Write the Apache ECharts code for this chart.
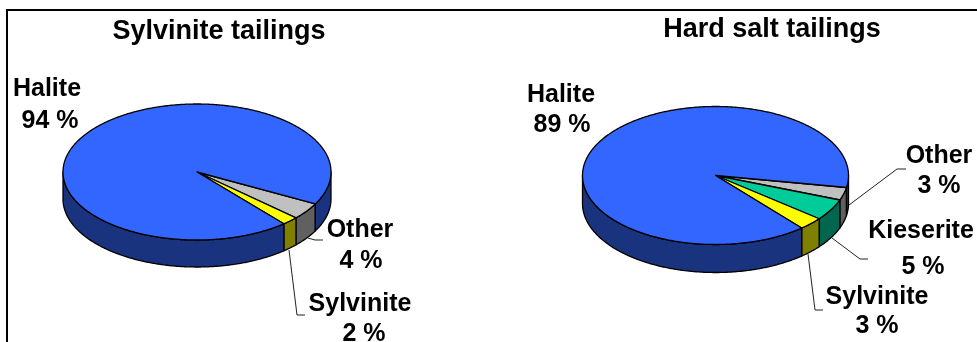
<!DOCTYPE html>
<html><head><meta charset="utf-8">
<style>html,body{margin:0;padding:0;background:#fff}#c{width:977px;height:342px}</style>
<script src="https://cdn.jsdelivr.net/npm/echarts@6/dist/echarts.min.js"></script>
</head><body><div id="c"></div>
<script>
const sylviniteTitle = 'Sylvinite tailings';
const sylviniteNames = ['Other', 'Sylvinite', 'Halite'];
const sylviniteValues = [4, 2, 94];
const hardSaltTitle = 'Hard salt tailings';
const hardSaltNames = ['Other', 'Kieserite', 'Sylvinite', 'Halite'];
const hardSaltValues = [3, 5, 3, 89];

const palette = {
  Halite: ['#3366FF', '#1A337F'],
  Other: ['#C0C0C0', '#606060'],
  Sylvinite: ['#FFFF00', '#808000'],
  Kieserite: ['#00CC99', '#006650']
};
const FONT = '"Liberation Sans", Arial, sans-serif';

// layout of each pie: ellipse, label anchors, leader lines
const leftLayout = {
  cx: 197, cy: 172, rx: 134, ry: 68, depth: 27, start: 28,
  labels: {
    Halite: { name: [47, 89], value: [50, 121], leader: null },
    Other: { name: [360, 230], value: [361, 261], leader: [[308, 238], [315, 240], [323, 240]] },
    Sylvinite: { name: [360, 304], value: [364, 334], leader: [[289, 250], [297, 315], [305, 315]] }
  }
};
const rightLayout = {
  cx: 715.5, cy: 175.5, rx: 133, ry: 69, depth: 28, start: 10,
  labels: {
    Halite: { name: [561, 95], value: [562, 125], leader: null },
    Other: { name: [939, 156], value: [939, 186], leader: [[849, 205], [897, 169], [906, 169]] },
    Kieserite: { name: [921, 231], value: [923, 267], leader: [[832, 238], [860, 259], [868, 259]] },
    Sylvinite: { name: [877, 297], value: [877, 326], leader: [[808, 254], [815, 310], [823, 310]] }
  }
};

function pt(g, deg, dy) {
  const t = deg * Math.PI / 180;
  return [g.cx + g.rx * Math.cos(t), g.cy + g.ry * Math.sin(t) + dy];
}
function arc(g, a, b, dy) {
  const out = [], n = Math.max(2, Math.ceil(Math.abs(b - a) * 2));
  for (let i = 0; i <= n; i++) out.push(pt(g, a + (b - a) * i / n, dy));
  return out;
}
function visibleRanges(a, b) {
  const res = [];
  [[0, 180], [360, 540]].forEach(([lo, hi]) => {
    const s = Math.max(a, lo), e = Math.min(b, hi);
    if (e > s) res.push([s, e]);
  });
  return res;
}
function makeSeries(names, values, g) {
  const total = values.reduce((s, v) => s + v, 0);
  const startOf = i => g.start + 360 * values.slice(0, i).reduce((s, v) => s + v, 0) / total;
  return {
    type: 'custom',
    coordinateSystem: 'none',
    silent: true,
    animation: false,
    data: values.map((v, i) => [v, i]),
    renderItem(params, api) {
      const i = api.value(1), name = names[i];
      const a = startOf(i), b = a + 360 * api.value(0) / total;
      const [top, side] = palette[name];
      const stroke = { stroke: '#000', lineWidth: 1.3, lineJoin: 'round' };
      const children = [];
      visibleRanges(a, b).forEach(([s, e]) => {
        children.push({
          type: 'polygon',
          shape: { points: arc(g, s, e, 0).concat(arc(g, e, s, g.depth)) },
          style: Object.assign({ fill: side }, stroke)
        });
      });
      children.push({
        type: 'polygon',
        shape: { points: [[g.cx, g.cy]].concat(arc(g, a, b, 0)) },
        style: Object.assign({ fill: top }, stroke)
      });
      const lab = g.labels[name];
      if (lab.leader) children.push({
        type: 'polyline', shape: { points: lab.leader },
        style: { stroke: '#222', lineWidth: 1, fill: null }
      });
      [[name, lab.name], [api.value(0) + ' %', lab.value]].forEach(([text, p]) => {
        children.push({
          type: 'text',
          style: { text, x: p[0], y: p[1], fill: '#000', textAlign: 'center', textVerticalAlign: 'middle',
                   font: 'bold 25px ' + FONT }
        });
      });
      return { type: 'group', children };
    }
  };
}

const chart = echarts.init(document.getElementById('c'), null, { renderer: 'canvas' });
const titleStyle = { color: '#000', fontSize: 27, fontWeight: 'bold', fontFamily: FONT };
chart.setOption({
  animation: false,
  backgroundColor: '#fff',
  title: [
    { text: sylviniteTitle, left: 219, top: 18, textAlign: 'center', padding: 0, textStyle: titleStyle },
    { text: hardSaltTitle, left: 772, top: 16, textAlign: 'center', padding: 0, textStyle: titleStyle }
  ],
  graphic: [{
    type: 'polyline', silent: true,
    shape: { points: [[7, 342], [7, 10], [977, 10]] },
    style: { stroke: '#000', lineWidth: 2, fill: null }
  }],
  series: [
    makeSeries(sylviniteNames, sylviniteValues, leftLayout),
    makeSeries(hardSaltNames, hardSaltValues, rightLayout)
  ]
});
</script></body></html>
